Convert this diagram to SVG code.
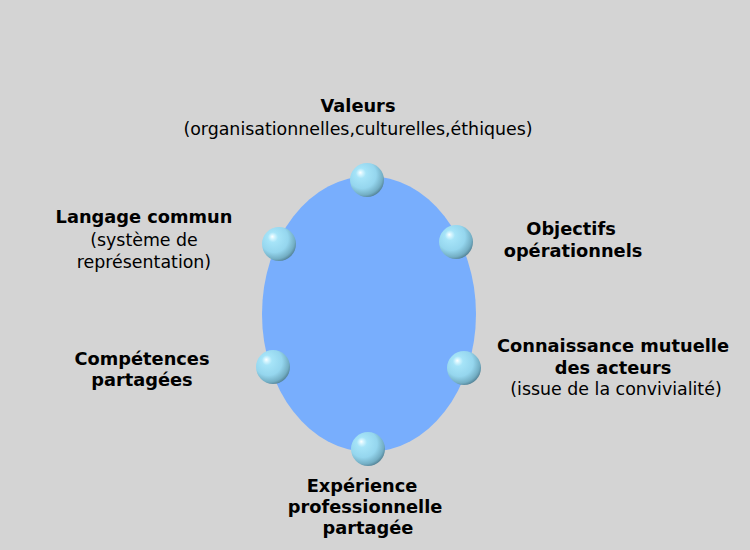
<svg xmlns="http://www.w3.org/2000/svg" width="750" height="550" viewBox="0 0 750 550">
<defs>
<radialGradient id="ball" cx="0.4" cy="0.38" r="0.68" fx="0.3" fy="0.28">
<stop offset="0" stop-color="#ffffff"/>
<stop offset="0.08" stop-color="#d8f6ff"/>
<stop offset="0.22" stop-color="#a6e4f8"/>
<stop offset="0.6" stop-color="#95d6ee"/>
<stop offset="0.85" stop-color="#73aec4"/>
<stop offset="1" stop-color="#4a7588"/>
</radialGradient>
</defs>
<style>
text{font-family:"DejaVu Sans",Verdana,sans-serif;font-size:17.4px;fill:#000;text-anchor:middle}
.b{font-weight:bold;font-size:17.8px}
.ball{fill:url(#ball)}
</style>
<rect width="750" height="550" fill="#d4d4d4"/>
<g id="ring">
<ellipse cx="369" cy="314" rx="107" ry="138" fill="#78aefd"/>
</g>
<g id="connectors"></g>
<g id="valeurs">
<circle class="ball" cx="367" cy="180" r="17"/>
<text class="b" x="358" y="112">Valeurs</text>
<text x="358" y="135">(organisationnelles,culturelles,éthiques)</text>
</g>
<g id="langage">
<circle class="ball" cx="279" cy="244" r="17"/>
<text class="b" x="144" y="223">Langage commun</text>
<text x="144" y="246">(système de</text>
<text x="144" y="268">représentation)</text>
</g>
<g id="objectifs">
<circle class="ball" cx="456" cy="242" r="17"/>
<text class="b" x="571" y="235">Objectifs</text>
<text class="b" x="573" y="257">opérationnels</text>
</g>
<g id="competences">
<circle class="ball" cx="273" cy="367" r="17"/>
<text class="b" x="142" y="365">Compétences</text>
<text class="b" x="142" y="386">partagées</text>
</g>
<g id="connaissance">
<circle class="ball" cx="464" cy="368" r="17"/>
<text class="b" x="613" y="352">Connaissance mutuelle</text>
<text class="b" x="613" y="374">des acteurs</text>
<text x="616" y="395">(issue de la convivialité)</text>
</g>
<g id="experience">
<circle class="ball" cx="368" cy="449" r="17"/>
<text class="b" x="362" y="492">Expérience</text>
<text class="b" x="365" y="513">professionnelle</text>
<text class="b" x="368" y="534">partagée</text>
</g>
</svg>
